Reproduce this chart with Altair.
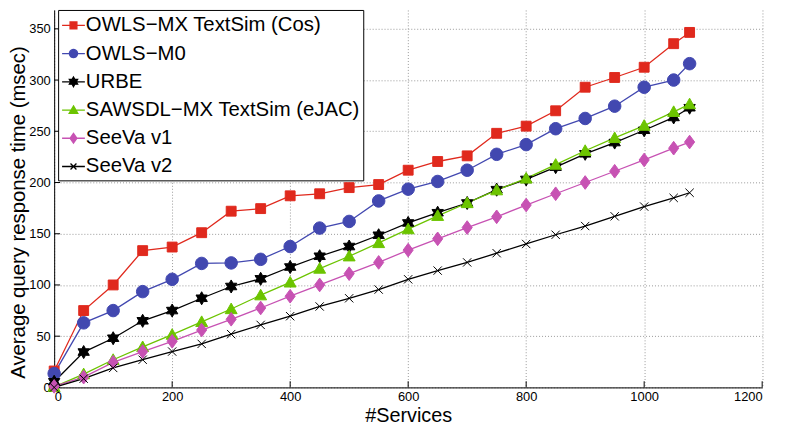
import altair as alt
import pandas as pd
import numpy as np

services = [0, 50, 100, 150, 200, 250, 300, 350, 400, 450, 500, 550, 600,
            650, 700, 750, 800, 850, 900, 950, 1000, 1050, 1077]
owls_mx_cos = [16, 75, 100, 133.5, 137, 151, 172, 174.5, 187, 189, 195, 198, 212,
               220.5, 226, 248, 255, 270, 293, 302.5, 312.5, 335.5, 346.5]
owls_m0 = [13.5, 63, 75, 93.5, 105.5, 121, 121.5, 125, 137.5, 155.5, 162, 182, 193.5,
           201, 212, 227.5, 237, 252.5, 262.5, 274.5, 293, 300, 316]
urbe = [5.5, 34.5, 48, 65, 75, 87, 98.5, 106, 117.5, 128, 137.5, 148.5, 160.5,
        170.5, 180, 193, 203, 215, 228, 239, 251, 263.5, 273]
sawsdl = [0.5, 13, 27, 39.5, 51.5, 64, 76.5, 90, 102.5, 116, 128, 141, 154.5,
          167.5, 180, 192.5, 204, 217.5, 231, 243.5, 255.5, 269, 276.5]
seeva_v1 = [1, 10, 24.5, 35, 45, 56, 66.5, 77.5, 89, 100, 111, 122, 134,
            145, 156, 166.5, 178, 189, 200, 211, 222, 233.5, 239.5]
seeva_v2 = [0, 8.5, 19, 27, 35, 42.5, 52, 61, 69.5, 79, 87, 95.5, 105.5,
            114, 122, 131, 140, 149, 157.5, 167, 176.5, 185, 190]

series_names = ["OWLS\u2212MX TextSim (Cos)", "OWLS\u2212M0", "URBE",
                "SAWSDL\u2212MX TextSim (eJAC)", "SeeVa v1", "SeeVa v2"]
series_values = [owls_mx_cos, owls_m0, urbe, sawsdl, seeva_v1, seeva_v2]
colors = ["#E0291D", "#4248B0", "#000000", "#6CC400", "#C752B3", "#000000"]

x_ticks = [0, 200, 400, 600, 800, 1000, 1200]
y_ticks = [0, 50, 100, 150, 200, 250, 300, 350]

rows = []
for name, vals in zip(series_names, series_values):
    for s, v in zip(services, vals):
        rows.append({"services": s, "value": v, "series": name})
df = pd.DataFrame(rows)


# ---- marker shapes (SVG paths in symbol units) ----
def polygon(pts):
    return "M" + "L".join(f"{x:.3f},{y:.3f}" for x, y in pts) + "Z"


def circle(r, n=20):
    a = np.linspace(0, 2 * np.pi, n, endpoint=False)
    return polygon(zip(r * np.cos(a), r * np.sin(a)))


def hexagram(R, r):
    pts = []
    for k in range(12):
        ang = np.deg2rad(-90 + 30 * k)
        rad = R if k % 2 == 0 else r
        pts.append((rad * np.cos(ang), rad * np.sin(ang)))
    return polygon(pts)


def square(h):
    return polygon([(-h, -h), (h, -h), (h, h), (-h, h)])


def triangle(w, top, bot):
    return polygon([(0, -top), (w, bot), (-w, bot)])


def diamond(w, h):
    return polygon([(0, -h), (w, 0), (0, h), (-w, 0)])


def cross(h):
    return f"M{-h},{-h}L{h},{h}M{-h},{h}L{h},{-h}"


plot_paths = [square(0.83), circle(1.05), hexagram(1.1, 0.635),
              triangle(1.0, 1.0, 0.78), diamond(0.85, 1.15), cross(0.7)]
line_seg = "M-1,0L1,0"
legend_paths = [line_seg + square(0.3), line_seg + circle(0.36), line_seg + hexagram(0.42, 0.24),
                line_seg + triangle(0.38, 0.36, 0.3), line_seg + diamond(0.3, 0.42), line_seg + cross(0.26)]

FONT = "Liberation Sans"
x_scale = alt.Scale(domain=[0, 1200], nice=False, zero=False)
y_scale = alt.Scale(domain=[0, 368.4], nice=False, zero=False)
x_axis = alt.Axis(values=x_ticks, title="#Services", titleFontSize=20, titleY=28.5,
                  titleBaseline="middle", labelPadding=3, format="d")
y_axis = alt.Axis(values=y_ticks, title="Average query response time (msec)", titleFontSize=20.5,
                  titleX=-36, titleY=204, titleBaseline="middle", labelPadding=4, format="d")

X = alt.X("services:Q", scale=x_scale, axis=x_axis)
Y = alt.Y("value:Q", scale=y_scale, axis=y_axis)

color_scale = alt.Scale(domain=series_names, range=colors)

lines = alt.Chart(df).mark_line(strokeWidth=1.3).encode(
    x=X, y=Y,
    color=alt.Color("series:N", scale=color_scale, legend=None),
)

points = alt.Chart(df).mark_point(filled=True, size=144, strokeWidth=1, opacity=1).encode(
    x=X, y=Y,
    shape=alt.Shape("series:N", scale=alt.Scale(domain=series_names, range=plot_paths), legend=None),
    color=alt.Color("series:N", scale=color_scale, legend=None),
    stroke=alt.Stroke("series:N", scale=color_scale, legend=None),
)

leg = alt.Legend(title=None, orient="none", legendX=4, legendY=0, padding=3,
                 strokeColor="black", fillColor="white",
                 labelFont=FONT, labelFontSize=20.5, labelColor="black", labelOffset=0,
                 labelLimit=500, symbolSize=529, symbolStrokeWidth=1.3, rowPadding=5.5,
                 symbolOpacity=1)

legend_layer = alt.Chart(df).transform_filter("false").mark_point(
    filled=True, size=529, strokeWidth=1.3, opacity=1).encode(
    x=X, y=Y,
    shape=alt.Shape("series:N", scale=alt.Scale(domain=series_names, range=legend_paths), legend=leg),
    color=alt.Color("series:N", scale=color_scale, legend=leg),
    stroke=alt.Stroke("series:N", scale=color_scale, legend=leg),
)

# inward tick marks (MATLAB style)
xt = pd.DataFrame({"services": x_ticks, "value": [0] * len(x_ticks), "v2": [6] * len(x_ticks)})
yt = pd.DataFrame({"value": y_ticks, "services": [0] * len(y_ticks), "s2": [10] * len(y_ticks)})
xticks_layer = alt.Chart(xt).mark_rule(color="black", strokeWidth=1).encode(
    x=X, y=Y, y2="v2:Q")
yticks_layer = alt.Chart(yt).mark_rule(color="black", strokeWidth=1).encode(
    x=X, y=Y, x2="s2:Q")

chart = alt.layer(xticks_layer, yticks_layer, lines, points, legend_layer).resolve_scale(
    shape="independent", color="independent", stroke="independent"
).resolve_legend(
    shape="independent", color="independent", stroke="independent"
).properties(
    width=714.7, height=381,
    autosize=alt.AutoSizeParams(type="none"),
    padding={"left": 46.6, "top": 0, "right": 18, "bottom": 40},
).configure_view(stroke=None).configure_axis(
    domainColor="black", domainWidth=1, grid=True, gridColor="#999999", gridDash=[1, 2],
    gridWidth=1, ticks=False, labelFont=FONT, labelFontSize=13, labelColor="black",
    titleFont=FONT, titleFontWeight="normal", titleColor="black",
)

chart.save("out.html", embed_options={"renderer": "svg", "actions": False})
